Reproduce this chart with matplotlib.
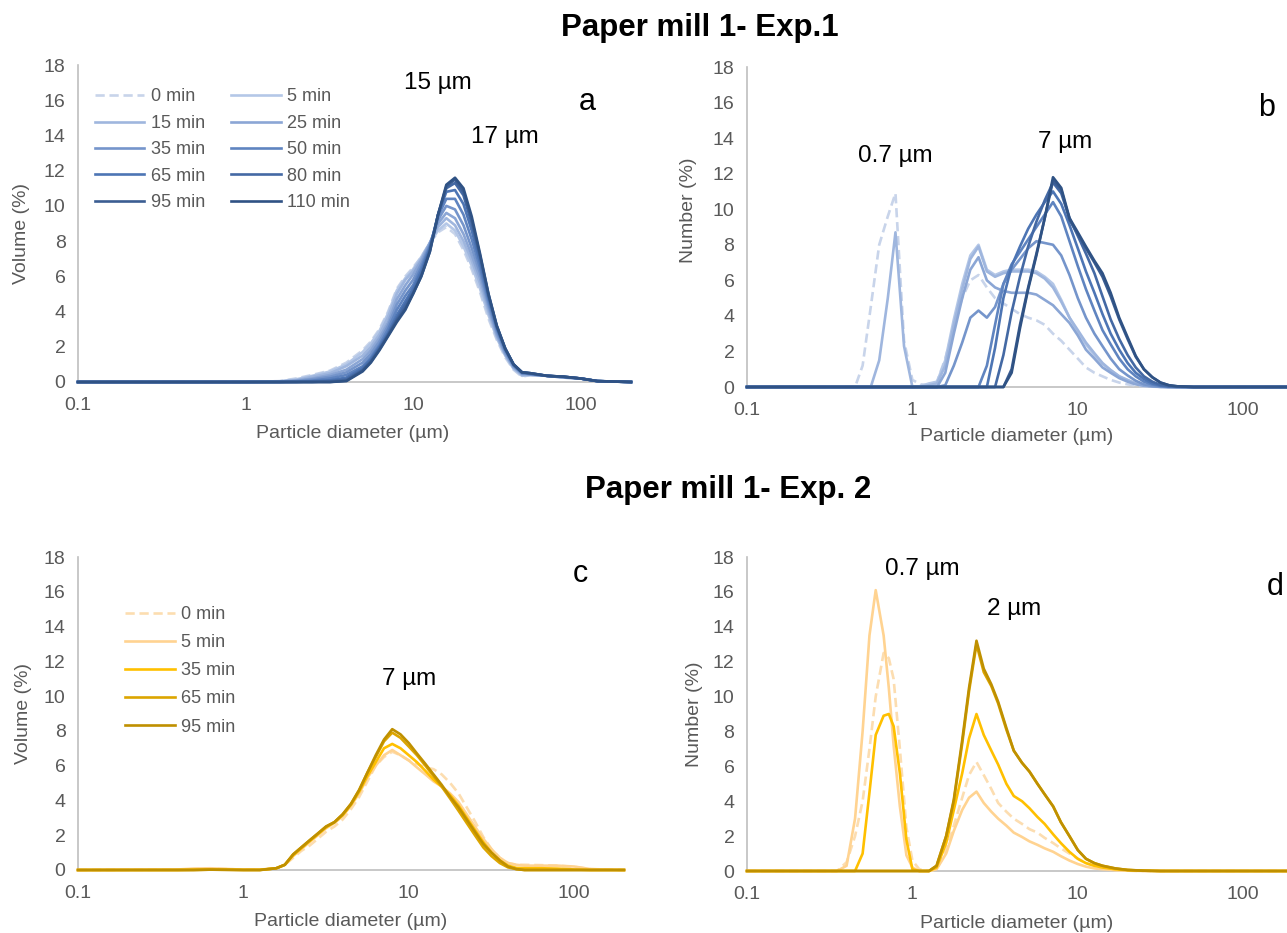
import matplotlib
matplotlib.use('Agg')
import matplotlib.pyplot as plt
from matplotlib import font_manager

# ---------------- data ----------------
times_a = ['0 min', '5 min', '15 min', '25 min', '35 min', '50 min', '65 min', '80 min', '95 min', '110 min']
times_c = ['0 min', '5 min', '35 min', '65 min', '95 min']

# Panel a : volume distribution, Exp.1
Xa = [0.1, 1.0, 1.6, 2.0, 2.5, 3.2, 4.0, 5.0, 5.6, 6.3, 7.1, 8.0, 9.0, 10.0, 11.2, 12.6, 14.1, 15.8,
      17.8, 20.0, 22.4, 25.1, 28.2, 31.6, 35.5, 39.8, 44.7, 50.1, 63.1, 79.4, 100, 126, 200]
a0 = [0, 0, 0.05, 0.2, 0.4, 0.65, 1.1, 1.8, 2.3, 3.0, 4.0, 5.3, 6.0, 6.5, 7.1, 7.9, 8.5, 8.8, 8.4, 7.5,
      6.4, 5.1, 3.6, 2.4, 1.4, 0.7, 0.3, 0.4, 0.35, 0.25, 0.2, 0.05, 0]
a5 = [0, 0, 0.04, 0.15, 0.35, 0.6, 1.0, 1.7, 2.2, 2.9, 3.9, 5.2, 5.9, 6.4, 7.1, 7.9, 8.6, 9.0, 8.6, 7.7,
      6.6, 5.3, 3.8, 2.5, 1.5, 0.75, 0.35, 0.4, 0.35, 0.25, 0.2, 0.05, 0]
a15 = [0, 0, 0.03, 0.1, 0.3, 0.5, 0.9, 1.5, 2.0, 2.7, 3.7, 5.0, 5.8, 6.3, 7.0, 7.9, 8.8, 9.3, 8.9, 8.0,
       6.9, 5.6, 4.0, 2.6, 1.55, 0.8, 0.4, 0.4, 0.35, 0.25, 0.2, 0.05, 0]
a25 = [0, 0, 0.02, 0.08, 0.2, 0.4, 0.7, 1.3, 1.8, 2.5, 3.4, 4.7, 5.5, 6.1, 6.9, 7.9, 9.0, 9.6, 9.3, 8.4,
       7.2, 5.9, 4.2, 2.7, 1.6, 0.85, 0.45, 0.42, 0.35, 0.27, 0.2, 0.05, 0]
a35 = [0, 0, 0, 0.05, 0.15, 0.3, 0.55, 1.1, 1.6, 2.3, 3.2, 4.4, 5.2, 5.8, 6.7, 7.8, 9.2, 10.0, 9.8, 8.9,
       7.6, 6.2, 4.4, 2.85, 1.7, 0.9, 0.5, 0.45, 0.35, 0.28, 0.2, 0.05, 0]
a50 = [0, 0, 0, 0.02, 0.08, 0.2, 0.4, 0.9, 1.4, 2.1, 3.0, 4.1, 4.9, 5.5, 6.5, 7.7, 9.4, 10.4, 10.4, 9.5,
       8.1, 6.5, 4.6, 3.0, 1.8, 0.95, 0.5, 0.45, 0.35, 0.28, 0.2, 0.05, 0]
a65 = [0, 0, 0, 0, 0.04, 0.1, 0.25, 0.8, 1.3, 2.0, 2.8, 3.8, 4.6, 5.3, 6.3, 7.6, 9.5, 10.8, 10.9, 10.1,
       8.6, 6.8, 4.8, 3.1, 1.85, 1.0, 0.55, 0.48, 0.35, 0.3, 0.2, 0.05, 0]
a80 = [0, 0, 0, 0, 0, 0.05, 0.15, 0.7, 1.2, 1.9, 2.7, 3.6, 4.4, 5.1, 6.1, 7.5, 9.5, 11.0, 11.3, 10.6,
       9.0, 7.1, 4.9, 3.15, 1.9, 1.0, 0.55, 0.5, 0.35, 0.3, 0.2, 0.05, 0]
a95 = [0, 0, 0, 0, 0, 0, 0.08, 0.65, 1.15, 1.85, 2.65, 3.5, 4.2, 5.0, 6.0, 7.4, 9.5, 11.1, 11.5, 10.8,
       9.2, 7.2, 5.0, 3.2, 1.9, 1.0, 0.55, 0.5, 0.35, 0.3, 0.2, 0.05, 0]
a110 = [0, 0, 0, 0, 0, 0, 0.05, 0.6, 1.1, 1.8, 2.6, 3.4, 4.1, 5.0, 6.0, 7.4, 9.5, 11.2, 11.6, 11.0,
        9.4, 7.3, 5.0, 3.2, 1.9, 1.0, 0.55, 0.5, 0.35, 0.3, 0.2, 0.05, 0]

# Panel b : number distribution, Exp.1
Xb = [0.1, 0.45, 0.5, 0.56, 0.63, 0.71, 0.79, 0.89, 1.0, 1.12,
      1.26, 1.41, 1.58, 1.78, 2.0, 2.24, 2.51, 2.82, 3.16, 3.55,
      3.98, 4.47, 5.01, 5.62, 6.31, 7.08, 7.94, 8.91, 10.0, 11.2,
      12.6, 14.1, 15.8, 17.8, 20.0, 22.4, 25.1, 28.2, 31.6, 35.5,
      39.8, 50.1, 200]
b0 = [0, 0, 1.2, 4.5, 8.0, 9.6, 10.9, 2.6, 0.4, 0.15,
      0.1, 0.3, 1.6, 3.4, 5.0, 6.0, 6.3, 5.6, 5.0, 4.7,
      4.4, 4.1, 3.9, 3.75, 3.5, 3.0, 2.6, 2.1, 1.6, 1.1,
      0.8, 0.6, 0.4, 0.25, 0.15, 0.08, 0.04, 0.02, 0, 0,
      0, 0, 0]
b5 = [0, 0, 0, 0, 0, 0, 0, 0, 0, 0.05,
      0.2, 0.3, 1.5, 3.8, 5.8, 7.4, 8.0, 6.6, 6.3, 6.5,
      6.6, 6.6, 6.6, 6.5, 6.2, 5.8, 4.9, 3.9, 3.1, 2.4,
      1.8, 1.3, 0.95, 0.6, 0.4, 0.2, 0.1, 0.04, 0.01, 0,
      0, 0, 0]
b15 = [0, 0, 0, 0, 1.5, 5.0, 8.7, 2.3, 0, 0,
       0.1, 0.2, 1.2, 3.5, 5.5, 7.2, 7.9, 6.5, 6.2, 6.4,
       6.5, 6.5, 6.5, 6.4, 6.1, 5.6, 4.8, 3.9, 3.2, 2.5,
       1.9, 1.35, 0.95, 0.6, 0.38, 0.2, 0.1, 0.04, 0.01, 0,
       0, 0, 0]
b25 = [0, 0, 0, 0, 0, 0, 0, 0, 0, 0,
       0, 0, 0.8, 3.0, 5.0, 6.6, 7.3, 6.0, 5.6, 5.4,
       5.3, 5.3, 5.3, 5.2, 4.9, 4.6, 4.1, 3.6, 2.9, 2.1,
       1.6, 1.1, 0.8, 0.5, 0.3, 0.15, 0.07, 0.03, 0.01, 0,
       0, 0, 0]
b35 = [0, 0, 0, 0, 0, 0, 0, 0, 0, 0,
       0, 0, 0.1, 1.2, 2.5, 3.9, 4.3, 3.9, 4.5, 5.8,
       6.6, 7.2, 7.8, 8.2, 8.1, 8.0, 7.4, 6.3, 5.0, 3.9,
       3.0, 2.3, 1.6, 1.0, 0.65, 0.35, 0.15, 0.06, 0.02, 0,
       0, 0, 0]
b50 = [0, 0, 0, 0, 0, 0, 0, 0, 0, 0,
       0, 0, 0, 0, 0, 0, 0, 1.2, 3.5, 5.8,
       6.9, 7.6, 8.3, 9.0, 9.7, 10.4, 9.6, 8.2, 6.8, 5.5,
       4.3, 3.2, 2.4, 1.6, 1.0, 0.6, 0.3, 0.14, 0.06, 0.02,
       0, 0, 0]
b65 = [0, 0, 0, 0, 0, 0, 0, 0, 0, 0,
       0, 0, 0, 0, 0, 0, 0, 0, 2.2, 5.0,
       6.8, 7.9, 8.9, 9.7, 10.4, 11.0, 10.3, 9.1, 7.8, 6.5,
       5.3, 4.1, 3.0, 2.1, 1.35, 0.8, 0.45, 0.2, 0.08, 0.03,
       0.01, 0, 0]
b80 = [0, 0, 0, 0, 0, 0, 0, 0, 0, 0,
       0, 0, 0, 0, 0, 0, 0, 0, 0, 1.8,
       4.2, 6.2, 7.9, 9.3, 10.5, 11.5, 10.9, 9.5, 8.5, 7.5,
       6.4, 5.1, 3.8, 2.7, 1.8, 1.1, 0.6, 0.3, 0.12, 0.05,
       0.02, 0, 0]
b95 = [0, 0, 0, 0, 0, 0, 0, 0, 0, 0,
       0, 0, 0, 0, 0, 0, 0, 0, 0, 0,
       1.0, 3.5, 5.6, 7.5, 9.5, 11.6, 11.1, 9.4, 8.6, 7.8,
       7.0, 6.2, 5.1, 3.8, 2.7, 1.7, 1.0, 0.55, 0.25, 0.1,
       0.04, 0, 0]
b110 = [0, 0, 0, 0, 0, 0, 0, 0, 0, 0,
        0, 0, 0, 0, 0, 0, 0, 0, 0, 0,
        0.8, 3.3, 5.5, 7.4, 9.5, 11.8, 11.2, 9.5, 8.7, 7.9,
        7.1, 6.4, 5.3, 3.9, 2.8, 1.75, 1.0, 0.55, 0.25, 0.1,
        0.04, 0, 0]

# Panel c : volume distribution, Exp. 2
Xc = [0.1, 0.4, 0.5, 0.63, 0.8, 1.0, 1.26, 1.58, 1.78, 2.0,
      2.24, 2.51, 2.82, 3.16, 3.55, 3.98, 4.47, 5.01, 5.62, 6.31,
      7.08, 7.94, 8.91, 10.0, 11.2, 12.6, 14.1, 15.8, 17.8, 20.0,
      22.4, 25.1, 28.2, 31.6, 35.5, 39.8, 44.7, 50.1, 63.1, 79.4,
      100, 126, 200]
c0 = [0, 0.02, 0.05, 0.08, 0.05, 0.02, 0.02, 0.1, 0.3, 0.7,
      1.1, 1.4, 1.8, 2.2, 2.5, 2.9, 3.5, 4.2, 5.1, 6.0,
      6.5, 6.8, 6.6, 6.3, 6.1, 5.9, 5.8, 5.5, 5.0, 4.4,
      3.6, 2.8, 1.9, 1.2, 0.7, 0.4, 0.3, 0.3, 0.28, 0.25,
      0.18, 0.05, 0]
c5 = [0, 0.03, 0.08, 0.1, 0.06, 0.02, 0.02, 0.1, 0.3, 0.8,
      1.2, 1.6, 2.0, 2.4, 2.7, 3.1, 3.7, 4.4, 5.3, 6.0,
      6.6, 6.9, 6.6, 6.3, 5.9, 5.5, 5.1, 4.8, 4.4, 3.9,
      3.2, 2.5, 1.8, 1.2, 0.7, 0.4, 0.3, 0.25, 0.25, 0.25,
      0.2, 0.05, 0]
c35 = [0, 0, 0.02, 0.03, 0.02, 0.01, 0.01, 0.1, 0.3, 0.85,
       1.25, 1.65, 2.05, 2.45, 2.75, 3.15, 3.75, 4.5, 5.4, 6.2,
       7.0, 7.25, 7.0, 6.6, 6.2, 5.7, 5.2, 4.8, 4.3, 3.7,
       3.0, 2.3, 1.6, 1.0, 0.55, 0.25, 0.12, 0.1, 0.1, 0.08,
       0.03, 0, 0]
c65 = [0, 0, 0, 0.02, 0.01, 0, 0, 0.1, 0.3, 0.9,
       1.3, 1.7, 2.1, 2.5, 2.75, 3.2, 3.8, 4.6, 5.6, 6.5,
       7.4, 7.9, 7.6, 7.1, 6.6, 6.0, 5.4, 4.8, 4.1, 3.4,
       2.7, 2.0, 1.3, 0.8, 0.4, 0.15, 0.05, 0, 0, 0,
       0, 0, 0]
c95 = [0, 0, 0, 0.02, 0.01, 0, 0, 0.1, 0.3, 0.9,
       1.3, 1.7, 2.1, 2.5, 2.75, 3.2, 3.8, 4.6, 5.6, 6.6,
       7.5, 8.1, 7.8, 7.3, 6.7, 6.1, 5.5, 4.9, 4.2, 3.6,
       2.9, 2.2, 1.5, 1.0, 0.55, 0.2, 0.05, 0, 0, 0,
       0, 0, 0]

# Panel d : number distribution, Exp. 2
Xd = [0.1, 0.35, 0.4, 0.45, 0.5, 0.55, 0.6, 0.67, 0.72, 0.77,
      0.84, 0.92, 1.0, 1.1, 1.26, 1.4, 1.6, 1.78, 2.0, 2.2,
      2.44, 2.7, 3.0, 3.3, 3.7, 4.1, 4.6, 5.1, 5.7, 6.3,
      7.1, 7.9, 8.9, 10.0, 11.2, 12.6, 14.1, 16.8, 20.0, 25.0,
      31.6, 200]
d0 = [0, 0, 0.5, 2.0, 4.0, 7.0, 10.0, 12.5, 12.2, 11.0,
      7.0, 2.5, 0.6, 0.1, 0, 0.1, 1.2, 2.6, 4.2, 5.5,
      6.25, 5.5, 4.7, 3.9, 3.4, 3.0, 2.7, 2.4, 2.2, 1.9,
      1.6, 1.3, 1.0, 0.7, 0.45, 0.3, 0.18, 0.06, 0.02, 0,
      0, 0]
d5 = [0, 0, 0.3, 3.0, 8.0, 13.5, 16.1, 13.5, 10.5, 7.2,
      3.7, 0.9, 0.2, 0, 0, 0.1, 1.0, 2.3, 3.5, 4.2,
      4.55, 3.9, 3.4, 3.0, 2.6, 2.2, 1.95, 1.7, 1.5, 1.3,
      1.1, 0.85, 0.6, 0.4, 0.25, 0.15, 0.1, 0.05, 0.02, 0,
      0, 0]
d35 = [0, 0, 0, 0, 1.0, 4.5, 7.8, 8.9, 9.0, 8.3,
       5.6, 1.8, 0.1, 0, 0, 0.2, 1.6, 3.5, 5.6, 7.6,
       9.0, 7.8, 6.9, 6.1, 5.0, 4.3, 4.0, 3.6, 3.1, 2.7,
       2.1, 1.6, 1.1, 0.7, 0.45, 0.3, 0.2, 0.1, 0.05, 0.02,
       0, 0]
d65 = [0, 0, 0, 0, 0, 0, 0, 0, 0, 0,
       0, 0, 0, 0, 0, 0.3, 2.0, 4.0, 7.3, 10.3,
       13.0, 11.4, 10.6, 9.6, 8.1, 6.9, 6.2, 5.7, 5.0, 4.4,
       3.7, 2.8, 2.0, 1.2, 0.7, 0.45, 0.3, 0.15, 0.06, 0.02,
       0, 0]
d95 = [0, 0, 0, 0, 0, 0, 0, 0, 0, 0,
       0, 0, 0, 0, 0, 0.3, 2.0, 4.1, 7.5, 10.5,
       13.2, 11.6, 10.7, 9.7, 8.2, 6.9, 6.2, 5.7, 5.0, 4.4,
       3.7, 2.8, 2.0, 1.2, 0.7, 0.45, 0.3, 0.15, 0.06, 0.02,
       0, 0]

x_ticks = [0.1, 1, 10, 100]
x_ticklabels = ['0.1', '1', '10', '100']
y_ticks = [0, 2, 4, 6, 8, 10, 12, 14, 16, 18]

blues = ['#C8D4EA', '#B4C7E7', '#9FB6DE', '#8BA6D5', '#7595CB', '#5F84C0', '#4D75B4', '#4469A4',
         '#3B5D92', '#2F5284']
golds = ['#FCDDB0', '#FFD391', '#FFC000', '#DCA500', '#BF9000']

# ---------------- fonts ----------------
avail = {f.name for f in font_manager.fontManager.ttflist}
main_font = 'Liberation Sans' if 'Liberation Sans' in avail else 'DejaVu Sans'
plt.rcParams['font.family'] = [main_font, 'DejaVu Sans']

GRAY = '#595959'
W, H = 1287, 933
fig = plt.figure(figsize=(W / 100, H / 100), dpi=100)


def add_axes(l, r, t, b):
    return fig.add_axes([l / W, 1 - b / H, (r - l) / W, (b - t) / H])


def style(ax, ylabel, xl_coords, yl_coords):
    ax.set_xscale('log')
    ax.set_xlim(0.1, 200)
    ax.set_ylim(0, 18)
    ax.set_xticks(x_ticks)
    ax.set_xticklabels(x_ticklabels)
    ax.xaxis.set_minor_locator(matplotlib.ticker.NullLocator())
    ax.set_yticks(y_ticks)
    ax.tick_params(length=0, labelsize=14, labelcolor=GRAY)
    ax.tick_params(axis='x', pad=11)
    ax.tick_params(axis='y', pad=9)
    for s in ('top', 'right'):
        ax.spines[s].set_visible(False)
    for s in ('left', 'bottom'):
        ax.spines[s].set_color('#BFBFBF')
        ax.spines[s].set_linewidth(1.2)
    ax.set_xlabel('Particle diameter (µm)', fontsize=14, color=GRAY)
    ax.set_ylabel(ylabel, fontsize=14, color=GRAY)
    ax.xaxis.label.set_verticalalignment('center')
    ax.yaxis.label.set_verticalalignment('center')
    ax.xaxis.set_label_coords(*xl_coords)
    ax.yaxis.set_label_coords(*yl_coords)


axa = add_axes(78, 631, 65, 382)
axb = add_axes(747, 1293, 67, 387)
axc = add_axes(78, 624, 557, 870)
axd = add_axes(747, 1293, 557, 871)

style(axa, 'Volume (%)', (0.497, -0.161), (-0.103, 0.47))
style(axb, 'Number (%)', (0.493, -0.156), (-0.108, 0.553))
style(axc, 'Volume (%)', (0.50, -0.166), (-0.10, 0.50))
style(axd, 'Number (%)', (0.493, -0.166), (-0.097, 0.50))

LW = 1.9
DASH = (0, (3.5, 1.8))

series_a = [a0, a5, a15, a25, a35, a50, a65, a80, a95, a110]
series_b = [b0, b5, b15, b25, b35, b50, b65, b80, b95, b110]
series_c = [c0, c5, c35, c65, c95]
series_d = [d0, d5, d35, d65, d95]

handles_a = []
for i, (lab, ya, yb) in enumerate(zip(times_a, series_a, series_b)):
    ls = DASH if i == 0 else '-'
    h, = axa.plot(Xa, ya, color=blues[i], lw=LW, ls=ls, label=lab, clip_on=False, zorder=3 + i)
    axb.plot(Xb, yb, color=blues[i], lw=LW, ls=ls, clip_on=False, zorder=3 + i)
    handles_a.append(h)

handles_c = []
for i, (lab, yc, yd) in enumerate(zip(times_c, series_c, series_d)):
    ls = DASH if i == 0 else '-'
    h, = axc.plot(Xc, yc, color=golds[i], lw=LW, ls=ls, label=lab, clip_on=False, zorder=3 + i)
    axd.plot(Xd, yd, color=golds[i], lw=LW, ls=ls, clip_on=False, zorder=3 + i)
    handles_c.append(h)

order = [0, 2, 4, 6, 8, 1, 3, 5, 7, 9]
axa.legend(handles=[handles_a[k] for k in order], ncol=2, frameon=False, loc='upper left',
           bbox_to_anchor=(0.030, 0.926), fontsize=13, handlelength=2.75, handletextpad=0.35,
           columnspacing=1.45, labelspacing=0.52, borderpad=0, borderaxespad=0, labelcolor=GRAY)
axc.legend(handles=handles_c, ncol=1, frameon=False, loc='upper left',
           bbox_to_anchor=(0.086, 0.844), fontsize=13, handlelength=2.75, handletextpad=0.35,
           labelspacing=0.62, borderpad=0, borderaxespad=0, labelcolor=GRAY)

ANN = 17.5
axa.text(14.0, 17.0, '15 µm', fontsize=ANN, ha='center', va='center')
axa.text(35.4, 13.9, '17 µm', fontsize=ANN, ha='center', va='center')
axa.text(109, 15.9, 'a', fontsize=22, ha='center', va='center')
axb.text(0.79, 13.0, '0.7 µm', fontsize=ANN, ha='center', va='center')
axb.text(8.4, 13.8, '7 µm', fontsize=ANN, ha='center', va='center')
axb.text(138, 15.7, 'b', fontsize=22, ha='center', va='center')
axc.text(10.0, 10.96, '7 µm', fontsize=ANN, ha='center', va='center')
axc.text(109, 17.0, 'c', fontsize=22, ha='center', va='center')
axd.text(1.15, 17.3, '0.7 µm', fontsize=ANN, ha='center', va='center')
axd.text(4.1, 15.0, '2 µm', fontsize=ANN, ha='center', va='center')
axd.text(157, 16.3, 'd', fontsize=22, ha='center', va='center')

fig.text(700 / W, 1 - 28 / H, 'Paper mill 1- Exp.1', ha='center', va='center',
         fontsize=22.5, fontweight='bold')
fig.text(728 / W, 1 - 490 / H, 'Paper mill 1- Exp. 2', ha='center', va='center',
         fontsize=22.5, fontweight='bold')

fig.savefig('out.png', dpi=100)
